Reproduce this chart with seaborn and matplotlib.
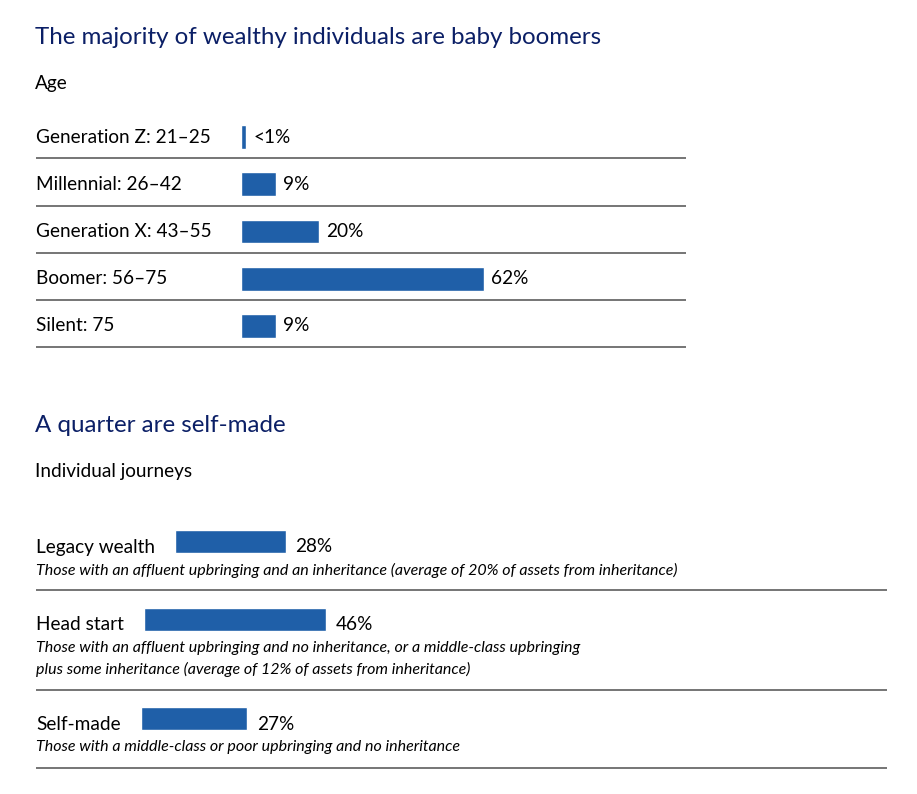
import matplotlib
matplotlib.use("Agg")
import matplotlib.pyplot as plt
import pandas as pd
import seaborn as sns

# ── Style ─────────────────────────────────────────────────────────────────────
sns.set_theme(style="white")
plt.rcParams["font.family"] = ["Lato", "DejaVu Sans"]
NAVY     = "#0b1f66"
BAR_BLUE = "#1f5fa8"
RULE     = "#6a6a6a"
TITLE_FS = 17.4
LABEL_FS = 13.7
NOTE_FS  = 11.5

# ── Data ──────────────────────────────────────────────────────────────────────
age_groups = ["Generation Z: 21–25", "Millennial: 26–42", "Generation X: 43–55",
              "Boomer: 56–75", "Silent: 75"]
age_share  = [1.3, 9, 20, 62, 9]          # "<1%" drawn as a sliver
age_labels = ["<1%", "9%", "20%", "62%", "9%"]

journeys       = ["Legacy wealth", "Head start", "Self-made"]
journey_share  = [28, 46, 27]
journey_labels = ["28%", "46%", "27%"]
journey_notes  = [
    ["Those with an affluent upbringing and an inheritance (average of 20% of assets from inheritance)"],
    ["Those with an affluent upbringing and no inheritance, or a middle-class upbringing",
     "plus some inheritance (average of 12% of assets from inheritance)"],
    ["Those with a middle-class or poor upbringing and no inheritance"],
]

# ── Layout (pixels of a 917x794 canvas) ───────────────────────────────────────
W, H = 917, 794
fig = plt.figure(figsize=(W / 100, H / 100), dpi=100)
fig.patch.set_facecolor("white")


def fx(px):
    return px / W


def fy(py):
    return 1 - py / H


# ── 1. Age chart ──────────────────────────────────────────────────────────────
fig.text(fx(35), fy(37), "The majority of wealthy individuals are baby boomers",
         color=NAVY, fontsize=TITLE_FS, va="center")
fig.text(fx(35), fy(83), "Age", color="black", fontsize=LABEL_FS, va="center")

top, bottom = 113.4, 349.6
ax1 = fig.add_axes([fx(36), fy(bottom), fx(650), (bottom - top) / H])
age_df = pd.DataFrame({"group": age_groups, "share": age_share})
sns.barplot(data=age_df, x="share", y="group", order=age_groups, orient="h",
            color=BAR_BLUE, saturation=1, width=0.5, ax=ax1)
x_left = -205 / 3.92
ax1.set_xlim(x_left, 445 / 3.92)
ax1.set_ylim(4.5, -0.5)
ax1.axis("off")
for i, (name, v, lab) in enumerate(zip(age_groups, age_share, age_labels)):
    ax1.text(x_left, i, name, fontsize=LABEL_FS, va="center", ha="left", color="black")
    ax1.text(v + 1.8, i, lab, fontsize=LABEL_FS, va="center", ha="left", color="black")
    ax1.axhline(i + 0.45, color=RULE, lw=1.3)

# ── 2. Individual journeys ────────────────────────────────────────────────────
fig.text(fx(35), fy(425), "A quarter are self-made", color=NAVY, fontsize=TITLE_FS, va="center")
fig.text(fx(35), fy(472), "Individual journeys", color="black", fontsize=LABEL_FS, va="center")

y0, y1 = 500, 790
ax2 = fig.add_axes([fx(36), fy(y1), fx(851), (y1 - y0) / H])
ax2.set_xlim(0, 851 / 3.95)
ax2.set_ylim(y1, y0)
ax2.axis("off")

row_text_y = [547, 625, 724]
rule_y     = [590, 690, 768]

fig.canvas.draw()
renderer = fig.canvas.get_renderer()
for name, v, lab, notes, ty, ry in zip(journeys, journey_share, journey_labels,
                                       journey_notes, row_text_y, rule_y):
    t = ax2.text(0, ty, name, fontsize=LABEL_FS, va="center", ha="left", color="black")
    bb = t.get_window_extent(renderer)
    left = ax2.transData.inverted().transform((bb.x1 + 20, 0))[0]
    ax2.barh(ty - 5.5, v, left=left, height=23, color=BAR_BLUE)
    ax2.text(left + v + 2.5, ty, lab, fontsize=LABEL_FS, va="center", ha="left", color="black")
    for k, line in enumerate(notes):
        ax2.text(0, ty + 23 + 21 * k, line, fontsize=NOTE_FS, style="italic",
                 va="center", ha="left", color="black")
    ax2.axhline(ry, color=RULE, lw=1.3)

fig.savefig("out.png", dpi=100, facecolor="white")
